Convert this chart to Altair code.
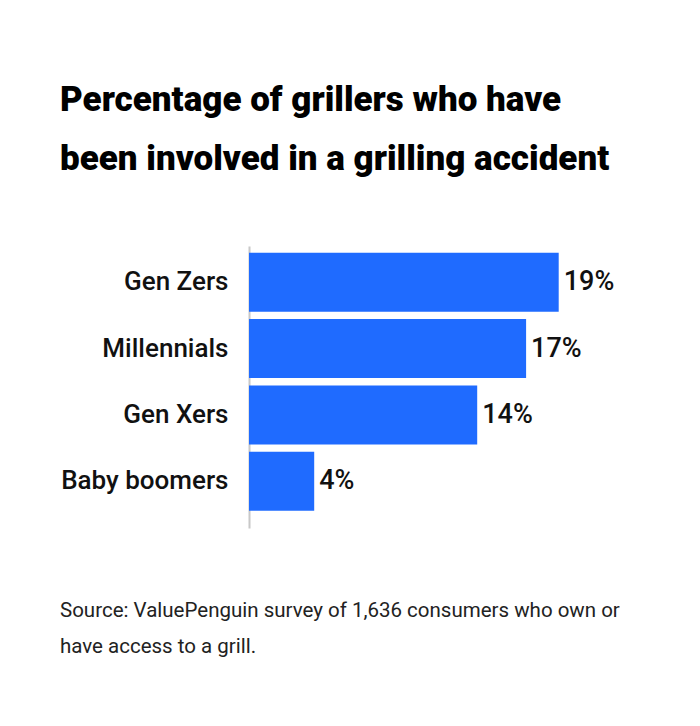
import altair as alt
import pandas as pd

categories = ["Gen Zers", "Millennials", "Gen Xers", "Baby boomers"]
values = [19, 17, 14, 4]
value_labels = ["19%", "17%", "14%", "4%"]

title_lines = ["Percentage of grillers who have", "been involved in a grilling accident"]
source_text = "Source: ValuePenguin survey of 1,636 consumers who own or\nhave access to a grill."

df = pd.DataFrame({"group": categories, "pct": values, "label": value_labels})
src = pd.DataFrame({"line": [source_text]})

FONT = "Roboto"
BLUE = "#1F6BFF"

y_enc = alt.Y(
    "group:N",
    sort=categories,
    scale=alt.Scale(paddingInner=0.11, paddingOuter=0.18, align=0.28),
    axis=alt.Axis(
        title=None,
        ticks=False,
        domain=True,
        domainColor="#c8c8c8",
        domainWidth=2,
        labelFont=FONT,
        labelFontSize=26,
        labelFontWeight=500,
        labelColor="#111111",
        labelPadding=21,
        labelLimit=400,
    ),
)
x_enc = alt.X("pct:Q", scale=alt.Scale(domain=[0, 20]), axis=None)

bars = alt.Chart(df).mark_bar(color=BLUE).encode(x=x_enc, y=y_enc)
labels = alt.Chart(df).mark_text(
    align="left", baseline="middle", dx=5, font=FONT, fontSize=27, fontWeight=500,
    color="#111111"
).encode(x=x_enc, y=alt.Y("group:N", sort=categories), text="label:N")

source = alt.Chart(src).mark_text(
    align="left", baseline="alphabetic", font=FONT, fontSize=20.5, color="#222222",
    lineBreak="\n", lineHeight=36,
).encode(
    x=alt.value(-189),
    y=alt.value(371),
    text="line:N",
)

chart = (
    alt.layer(bars, labels, source)
    .properties(
        width=326,
        height=282,
        padding={"left": 241, "top": 238, "right": 100, "bottom": 180},
        autosize=alt.AutoSizeParams(type="none"),
        title=alt.Title(
            text=title_lines,
            anchor="start",
            frame="group",
            dx=-189,
            font=FONT,
            fontSize=35,
            fontWeight=900,
            color="#000000",
            lineHeight=59,
            offset=69,
        ),
    )
    .configure_view(stroke=None)
)

chart.save("out.html", embed_options={"renderer": "svg", "actions": False})
